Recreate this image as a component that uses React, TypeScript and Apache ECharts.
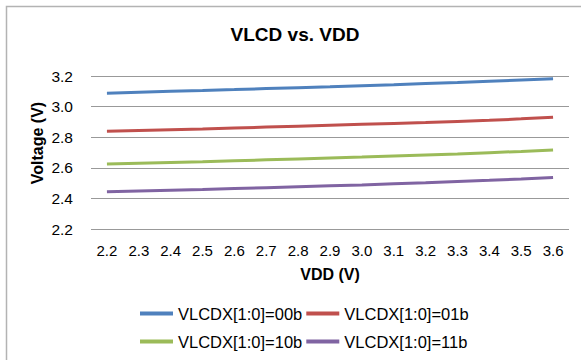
import React, { useEffect, useRef } from "react";
import * as echarts from "echarts";

const categories = ["2.2", "2.3", "2.4", "2.5", "2.6", "2.7", "2.8", "2.9", "3.0", "3.1", "3.2", "3.3", "3.4", "3.5", "3.6"];
const seriesNames = ["VLCDX[1:0]=00b", "VLCDX[1:0]=01b", "VLCDX[1:0]=10b", "VLCDX[1:0]=11b"];
const s00 = [3.088, 3.094, 3.1, 3.105, 3.111, 3.118, 3.124, 3.13, 3.137, 3.143, 3.151, 3.158, 3.166, 3.174, 3.182];
const s01 = [2.839, 2.844, 2.849, 2.854, 2.86, 2.866, 2.872, 2.878, 2.884, 2.89, 2.896, 2.903, 2.91, 2.92, 2.931];
const s10 = [2.625, 2.63, 2.635, 2.64, 2.646, 2.652, 2.658, 2.664, 2.67, 2.677, 2.684, 2.691, 2.699, 2.707, 2.716];
const s11 = [2.443, 2.448, 2.453, 2.458, 2.464, 2.47, 2.476, 2.482, 2.488, 2.495, 2.502, 2.51, 2.518, 2.527, 2.537];
const colors = ["#4F81BD", "#C0504D", "#9BBB59", "#8064A2"];
const yTicks = { min: 2.2, max: 3.2, interval: 0.2 };

export default function App() {
  const ref = useRef<HTMLDivElement>(null);
  useEffect(() => {
    if (!ref.current) return;
    const chart = echarts.init(ref.current, null, { renderer: "svg" });
    const allData = [s00, s01, s10, s11];
    const font = "Liberation Sans, Arial, sans-serif";
    const legendCommon = {
      left: 140,
      itemWidth: 33,
      itemHeight: 4,
      itemGap: 4,
      padding: 0,
      icon: "rect",
      textStyle: { fontSize: 16.5, color: "#000", fontFamily: font },
    };
    chart.setOption({
      animation: false,
      backgroundColor: "#ffffff",
      textStyle: { fontFamily: font },
      graphic: [
        {
          type: "rect",
          shape: { x: 6.5, y: 6.5, width: 578, height: 360 },
          style: { fill: "none", stroke: "#b3b3b3", lineWidth: 1.5 },
          silent: true,
        },
        {
          type: "text",
          x: 295,
          y: 34,
          style: {
            text: "VLCD vs. VDD",
            align: "center",
            verticalAlign: "middle",
            fontSize: 19,
            fontWeight: "bold",
            fontFamily: font,
            fill: "#000",
          },
        },
        {
          type: "text",
          x: 37,
          y: 143,
          rotation: Math.PI / 2,
          style: {
            text: "Voltage (V)",
            align: "center",
            verticalAlign: "middle",
            fontSize: 16,
            fontWeight: "bold",
            fontFamily: font,
            fill: "#000",
          },
        },
      ],
      legend: [
        { ...legendCommon, data: seriesNames.slice(0, 2), top: 305 },
        { ...legendCommon, data: seriesNames.slice(2, 4), top: 333 },
      ],
      grid: { left: 91, right: 12, top: 76, bottom: 131, containLabel: false },
      xAxis: {
        type: "category",
        data: categories,
        boundaryGap: true,
        axisLine: { show: false },
        axisTick: { show: false },
        axisLabel: { color: "#000", fontSize: 15, margin: 14, fontFamily: font },
        name: "VDD (V)",
        nameLocation: "middle",
        nameGap: 37,
        nameTextStyle: { fontSize: 16, fontWeight: "bold", color: "#000", fontFamily: font },
      },
      yAxis: {
        type: "value",
        min: yTicks.min,
        max: yTicks.max,
        interval: yTicks.interval,
        axisLine: { show: false },
        axisTick: { show: false },
        axisLabel: {
          color: "#000",
          fontSize: 15.5,
          margin: 18,
          fontFamily: font,
          formatter: (v: number) => v.toFixed(1),
        },
        splitLine: { lineStyle: { color: "#999999", width: 1 } },
      },
      series: seriesNames.map((name, i) => ({
        name,
        type: "line",
        data: allData[i],
        symbol: "none",
        color: colors[i],
        lineStyle: { color: colors[i], width: 3 },
      })),
    });
    return () => chart.dispose();
  }, []);
  return (
    <div
      ref={ref}
      style={{ position: "fixed", left: 0, top: 0, width: 581, height: 360 }}
    />
  );
}
